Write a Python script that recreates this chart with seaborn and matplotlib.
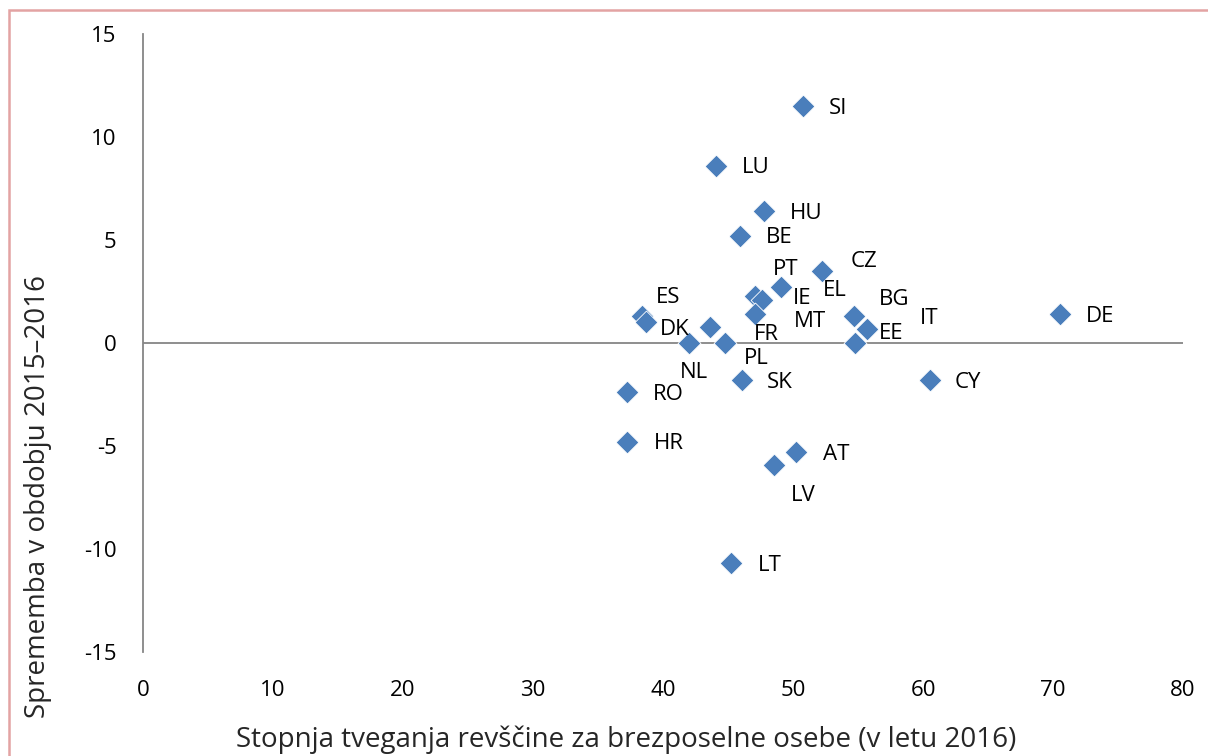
import pandas as pd
import matplotlib.pyplot as plt
import seaborn as sns
from matplotlib.patches import Rectangle

# country codes, poverty rate of unemployed (2016) and change 2015-2016
countries = ["SI", "LU", "HU", "BE", "CZ", "PT", "IE", "EL", "MT", "BG", "EE", "IT",
             "ES", "DK", "FR", "NL", "PL", "SK", "RO", "CY", "DE", "HR", "AT", "LV", "LT"]
rate_2016 = [50.8, 44.1, 47.8, 45.9, 52.2, 47.1, 47.6, 49.1, 47.1, 54.7, 55.7, 54.8,
             38.4, 38.7, 43.6, 42.0, 44.8, 46.1, 37.2, 60.5, 70.5, 37.2, 50.2, 48.5, 45.2]
change = [11.5, 8.6, 6.4, 5.2, 3.5, 2.3, 2.1, 2.7, 1.4, 1.3, 0.7, 0.0,
          1.3, 1.0, 0.8, 0.0, 0.0, -1.8, -2.4, -1.8, 1.4, -4.8, -5.3, -5.9, -10.7]

# label placement (pixel offsets from marker centre), as in the original Excel chart
label_offsets = {
    "SI": (25, 2), "LU": (26, 2), "HU": (25, 2), "BE": (26, 2), "CZ": (29, -9),
    "PT": (18, -26), "IE": (31, -1), "EL": (42, 3), "MT": (39, 7), "BG": (25, -17),
    "EE": (12, 5), "IT": (64, -24), "ES": (14, -19), "DK": (14, 7), "FR": (44, 8),
    "NL": (-9, 29), "PL": (18, 15), "SK": (25, 2), "RO": (26, 2), "CY": (25, 2),
    "DE": (26, 2), "HR": (27, 2), "AT": (27, 2), "LV": (17, 31), "LT": (27, 2),
}

df = pd.DataFrame({"country": countries, "rate": rate_2016, "change": change})

sns.set_style("white")
plt.rcParams["font.family"] = ["Open Sans", "DejaVu Sans"]
plt.rcParams["axes.unicode_minus"] = False

fig = plt.figure(figsize=(12.08, 7.56), dpi=100)
ax = fig.add_axes([143 / 1208, 1 - 652 / 756, 1040 / 1208, 618 / 756])

sns.scatterplot(data=df, x="rate", y="change", marker="D", s=135, color="#4A7EBB",
                edgecolor="white", linewidth=0.6, ax=ax, zorder=3)

for c, x, y in zip(countries, rate_2016, change):
    dx, dy = label_offsets[c]
    ax.annotate(c, (x, y), xytext=(dx, -dy), textcoords="offset pixels",
                ha="left", va="center", fontsize=16, color="black")

ax.set_xlim(0, 80)
ax.set_ylim(-15, 15)
ax.set_xticks(range(0, 81, 10))
ax.set_yticks(range(-15, 16, 5))
ax.tick_params(axis="both", length=0, labelsize=16, colors="black")
ax.tick_params(axis="x", pad=20)
ax.tick_params(axis="y", pad=19)
for side in ["top", "right", "bottom"]:
    ax.spines[side].set_visible(False)
ax.spines["left"].set_color("#868686")
ax.spines["left"].set_linewidth(1.3)
ax.axhline(0, color="#868686", linewidth=1.3, zorder=1)
ax.set_xlabel("")
ax.set_ylabel("")

fig.text(626 / 1208, 1 - 740 / 756, "Stopnja tveganja revščine za brezposelne osebe (v letu 2016)",
         ha="center", va="center", fontsize=20)
fig.text(38 / 1208, 1 - 496 / 756, "Sprememba v obdobju 2015\u20132016",
         ha="center", va="center", rotation=90, fontsize=20)

# chart area border, cut off at right and bottom like the original
fig.patches.append(Rectangle((9 / 1208, -0.1), 1.2, 1.1 - 10.5 / 756,
                             transform=fig.transFigure, fill=False,
                             edgecolor="#E3A3A3", linewidth=1.8))

fig.savefig("out.png", dpi=100)
